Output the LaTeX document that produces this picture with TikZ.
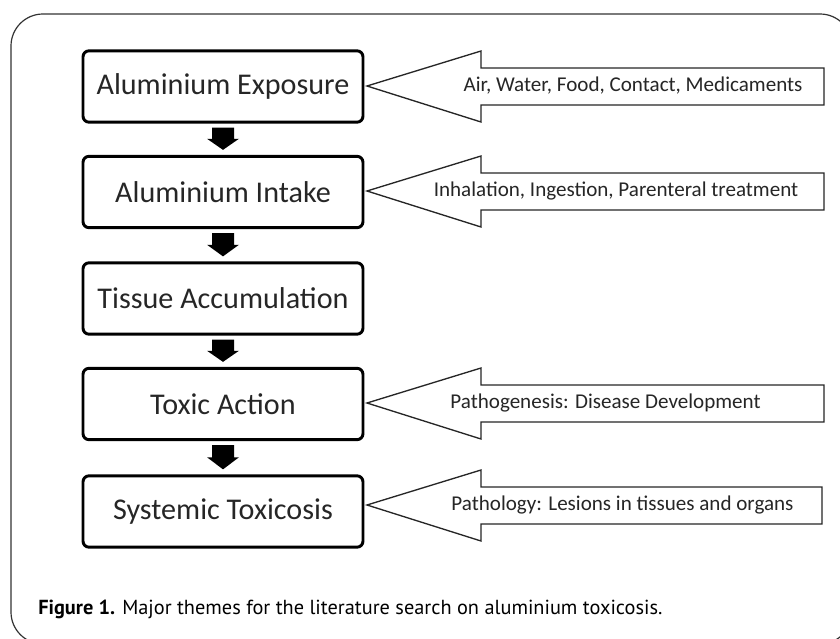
\documentclass[tikz,border=0pt]{standalone}
\usepackage{fontspec}
\setmainfont{Carlito}
\newfontfamily\capfont{PT Sans}
\usetikzlibrary{calc}
\tikzset{
  stagebox/.style={draw=black, line width=2.2pt, rounded corners=4.5pt, minimum width=210pt, minimum height=53.5pt, inner sep=0pt, font=\fontsize{22.6}{26}\selectfont, text=black!85},
  calltext/.style={inner sep=0pt, font=\fontsize{15.8}{18}\selectfont, text=black!85},
  callout/.style={draw=black!85, line width=1pt, fill=white, line join=miter},
  downarrow/.style={fill=black, draw=none},
}
\begin{document}
\begin{tikzpicture}[x=0.75pt,y=-0.75pt]
\useasboundingbox (0,0) rectangle (840,639);
\begin{scope}
\clip (0,0) rectangle (840,639);
\draw[black!80, line width=0.9pt, rounded corners=24pt] (11,14) rectangle (852,644);
\end{scope}
% stage boxes
\node[stagebox] (b1) at (223,86.5) {Aluminium Exposure};
\node[stagebox] (b2) at (223,192) {Aluminium Intake};
\node[stagebox] (b3) at (223,298.5) {Tissue Accumulation};
\node[stagebox] (b4) at (223,404) {Toxic Action};
\node[stagebox] (b5) at (223,511.5) {Systemic Toxicosis};
% block arrows between boxes
\foreach \a/\b in {b1/b2,b2/b3,b3/b4,b4/b5}{
  \coordinate (s) at ($(\a.south)+(0,4)$);
  \coordinate (e) at ($(\b.north)+(0,-5)$);
  \fill[downarrow] ($(s)+(-11,0)$) -- ($(s)+(11,0)$) -- ($(s)!0.5!(e)+(11,0)$) -- ($(s)!0.5!(e)+(16,0)$) -- (e) -- ($(s)!0.5!(e)+(-16,0)$) -- ($(s)!0.5!(e)+(-11,0)$) -- cycle;
}
% callout arrows
\foreach \n/\y/\r in {c1/86/824,c2/191/824,c4/403/824,c5/505/822}{
  \draw[callout] (367,\y) -- (481,\y-35) -- (481,\y-18) -- (\r,\y-18) -- (\r,\y+19) -- (481,\y+19) -- (481,\y+36) -- cycle;
}
\node[calltext] (t1) at (633,86) {Air, Water, Food, Contact, Medicaments};
\node[calltext] (t2) at (616,191) {Inhalation, Ingestion, Parenteral treatment};
\node[calltext] (t4) at (605.5,403) {Pathogenesis: Disease Development};
\node[calltext] (t5) at (622.5,505) {Pathology: Lesions in tissues and organs};
% caption
\node[anchor=west, inner sep=0pt, font=\capfont\fontsize{15.25}{18}\selectfont] (cap) at (38,609) {\textbf{Figure 1.} Major themes for the literature search on aluminium toxicosis.};
\end{tikzpicture}
\end{document}
